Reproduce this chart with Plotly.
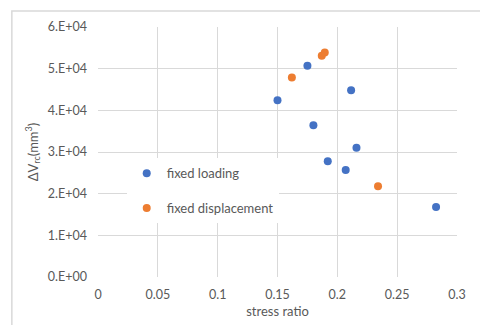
import plotly.graph_objects as go

# data
loading_x = [0.150, 0.175, 0.2115, 0.180, 0.216, 0.192, 0.207, 0.2825]
loading_y = [42400, 50700, 44800, 36400, 31000, 27800, 25700, 16800]
disp_x = [0.162, 0.187, 0.1895, 0.234]
disp_y = [47900, 53100, 53900, 21800]

x_ticks = [0, 0.05, 0.1, 0.15, 0.2, 0.25, 0.3]
x_ticktext = ["0", "0.05", "0.1", "0.15", "0.2", "0.25", "0.3"]
y_ticks = [0, 10000, 20000, 30000, 40000, 50000, 60000]
y_ticktext = ["0.E+00", "1.E+04", "2.E+04", "3.E+04", "4.E+04", "5.E+04", "6.E+04"]

FONT = "Lato"
GRAY = "#595959"
GRID = "#d9d9d9"

fig = go.Figure()
fig.add_trace(go.Scatter(x=loading_x, y=loading_y, mode="markers", name="fixed loading",
                         legendgroup="a",
                         marker=dict(color="#4472C4", size=8)))
fig.add_trace(go.Scatter(x=disp_x, y=disp_y, mode="markers", name="fixed displacement",
                         legendgroup="b",
                         marker=dict(color="#ED7D31", size=8)))

fig.update_layout(
    width=480, height=325,
    margin=dict(l=98, r=23, t=27, b=48),
    paper_bgcolor="white", plot_bgcolor="white",
    font=dict(family=FONT, size=12, color=GRAY),
    showlegend=True,
    legend=dict(x=0.08, y=0.475, xanchor="left", yanchor="top",
                bgcolor="white", font=dict(family=FONT, size=13, color=GRAY),
                tracegroupgap=15, traceorder="grouped"),
    shapes=[dict(type="rect", xref="paper", yref="paper",
                 x0=-0.24, x1=1.2, y0=-0.3, y1=1.064,
                 line=dict(color=GRID, width=1.5), layer="below")],
)
fig.update_xaxes(range=[0, 0.3], tickvals=x_ticks, ticktext=x_ticktext,
                 showgrid=True, gridcolor=GRID, gridwidth=1,
                 zeroline=False, showline=False, automargin=False,
                 ticks="", ticklabelstandoff=8,
                 tickfont=dict(family=FONT, size=12.5, color=GRAY),
                 title=dict(text="stress ratio", font=dict(family=FONT, size=13, color=GRAY), standoff=6))
fig.update_yaxes(range=[0, 60000], tickvals=y_ticks, ticktext=y_ticktext,
                 showgrid=True, gridcolor=GRID, gridwidth=1,
                 zeroline=False, showline=False, automargin=False,
                 ticks="", ticklabelstandoff=10,
                 tickfont=dict(family=FONT, size=12.5, color=GRAY),
                 title=dict(text="ΔV<sub>rc</sub>(mm<sup>3</sup>)", font=dict(family=FONT, size=13, color=GRAY), standoff=6))

fig.write_html("out.html")
